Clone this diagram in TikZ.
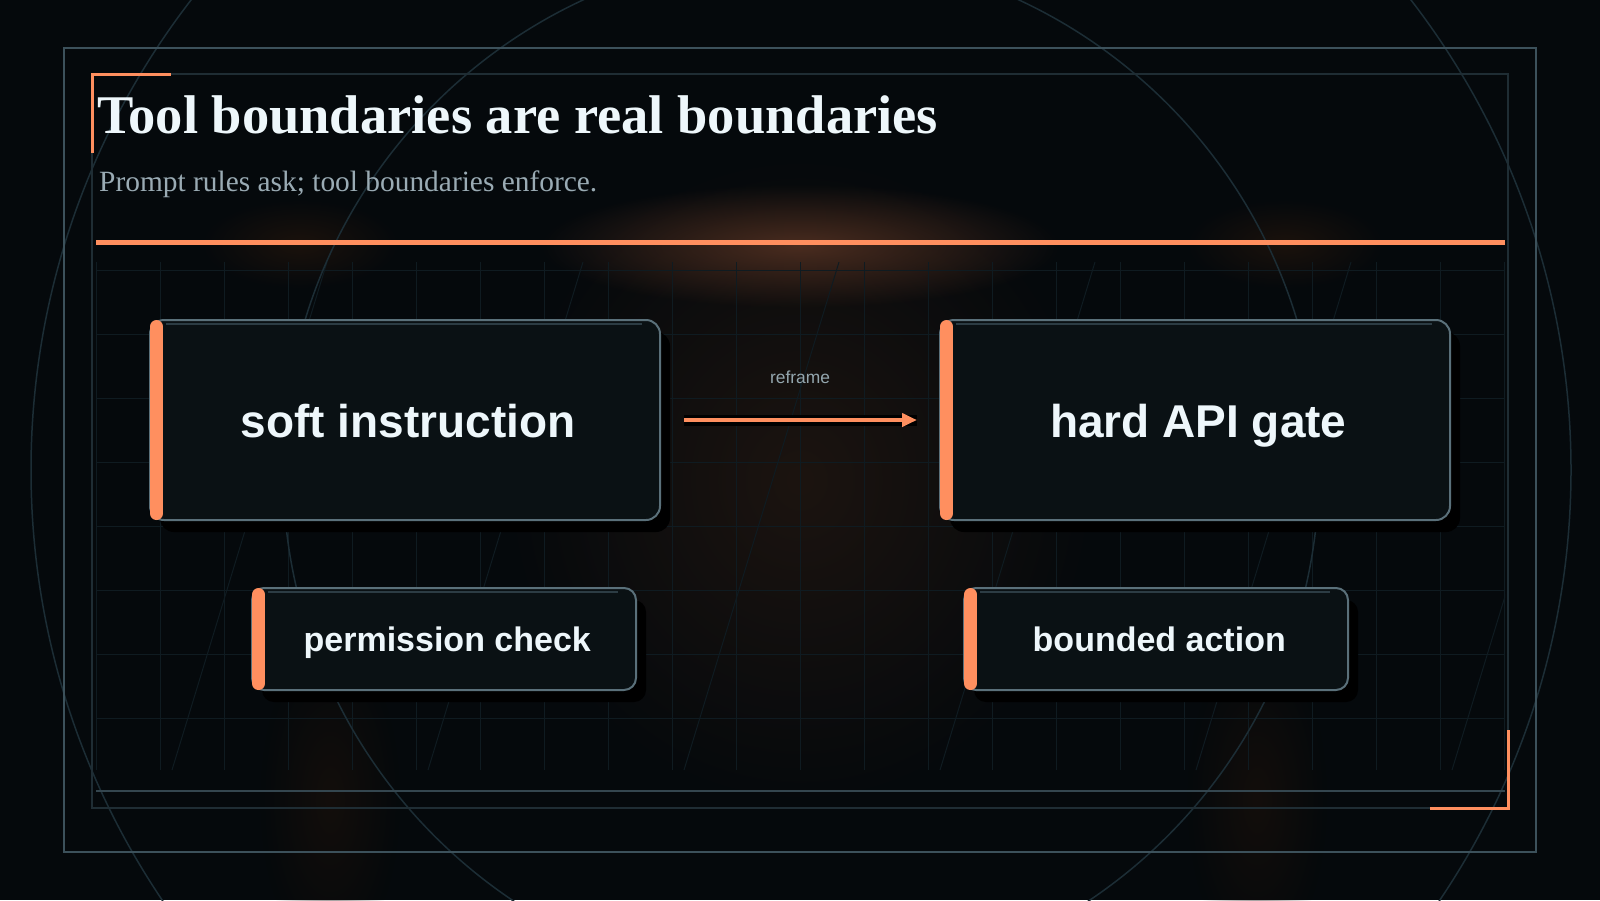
\documentclass[tikz,border=0pt]{standalone}
\usepackage{fontspec}
\setmainfont{Liberation Serif}
\newfontfamily\sansf{Liberation Sans}
\usetikzlibrary{shadows,arrows.meta,fadings}
\definecolor{bg}{HTML}{05090C}
\definecolor{accent}{HTML}{FF8F5F}
\definecolor{frameout}{HTML}{3C515B}
\definecolor{framein}{HTML}{1F2D34}
\definecolor{gridc}{HTML}{0F1B21}
\definecolor{circc}{HTML}{1C2D35}
\definecolor{boxfill}{HTML}{0A1114}
\definecolor{boxline}{HTML}{5A707A}
\definecolor{boxhl}{HTML}{2C3C44}
\definecolor{textw}{HTML}{EEF7FB}
\definecolor{subc}{HTML}{9AABB4}
\definecolor{labc}{HTML}{94A6AE}
\definecolor{glowa}{HTML}{4A2C1F}
\definecolor{glowb}{HTML}{1C1410}
\definecolor{glowc}{HTML}{1B120D}
\definecolor{glowd}{HTML}{130E0B}
\tikzfading[name=glowfade, inner color=transparent!0, outer color=transparent!100]
\tikzset{
  glow/.style={fill=#1, path fading=glowfade},
  boxbase/.style={draw=boxline, line width=2pt, fill=boxfill, outer sep=0pt, inner sep=0pt,
    text=textw, text depth=0pt, execute at begin node={\hspace*{6.5pt}},
    drop shadow={shadow xshift=10pt, shadow yshift=-12pt, fill=black, opacity=1}},
  bigbox/.style={boxbase, rounded corners=14pt, minimum width=510pt, minimum height=200pt,
    font=\sansf\bfseries\fontsize{46}{50}\selectfont, text height=34pt},
  smallbox/.style={boxbase, rounded corners=12pt, minimum width=384pt, minimum height=102pt,
    font=\sansf\bfseries\fontsize{34}{38}\selectfont, text height=24pt},
  bar/.style={draw=accent, line width=13pt, line cap=round},
  hl/.style={draw=boxhl, line width=2pt},
  gridline/.style={draw=gridc, line width=1pt},
  frameline/.style={line width=2pt},
}
\begin{document}
\begin{tikzpicture}[x=1pt,y=-1pt]
\useasboundingbox (0,0) rectangle (1600,900);
\fill[bg] (0,0) rectangle (1600,900);
% glows
\fill[glow=glowb] (800,480) ellipse [x radius=300, y radius=330];
\fill[glow=glowa] (800,246) ellipse [x radius=260, y radius=62];
\fill[glow=glowc] (300,244) ellipse [x radius=100, y radius=45];
\fill[glow=glowc] (1285,244) ellipse [x radius=100, y radius=45];
\fill[glow=glowd] (330,800) ellipse [x radius=70, y radius=160];
\fill[glow=glowd] (1257,800) ellipse [x radius=70, y radius=160];
% grid
\foreach \k in {0,...,22} \draw[gridline] ({96+64*\k},262) -- ({96+64*\k},770);
\foreach \j in {0,...,7} \draw[gridline] (96,{270+64*\j}) -- (1505,{270+64*\j});
\begin{scope}
  \clip (96,262) rectangle (1505,770);
  \foreach \k in {-1,...,5} \draw[gridline] ({327+256*\k},262) -- ({172+256*\k},770);
\end{scope}
% circles
\draw[circc, line width=1.5pt] (801,470) circle [radius=770];
\draw[circc, line width=1.5pt] (801,470) circle [radius=518];
% frames
\draw[frameout, frameline] (64,48) rectangle (1536,852);
\draw[framein, frameline] (92,74) rectangle (1508,808);
\draw[frameout!85!bg, frameline] (96,791) -- (1505,791);
\draw[accent, line width=3pt] (92,153) -- (92,74) -- (171,74);
\draw[accent, line width=3pt] (1508,730) -- (1508,808) -- (1430,808);
\fill[accent] (96,240) rectangle (1505,245);
% titles
\node[anchor=base west, inner sep=0pt, text=textw, font=\bfseries\fontsize{54.5}{60}\selectfont] (title) at (97,133) {Tool boundaries are real boundaries};
\node[anchor=base west, inner sep=0pt, text=subc, font=\fontsize{29.4}{34}\selectfont] (subtitle) at (99,191) {Prompt rules ask; tool boundaries enforce.};
% boxes
\node[bigbox] (soft) at (405,420) {soft instruction};
\node[bigbox] (hard) at (1195,420) {hard API gate};
\node[smallbox] (perm) at (444,639) {permission check};
\node[smallbox] (bound) at (1156,639) {bounded action};
\foreach \n in {soft,hard,perm,bound}{
  \draw[hl] ([shift={(16,4)}]\n.north west) -- ([shift={(-18,4)}]\n.north east);
  \draw[bar] ([shift={(6.5,6.5)}]\n.north west) -- ([shift={(6.5,-6.5)}]\n.south west);
}
% arrow
\draw[black, line width=11pt, shorten <=24pt, shorten >=23pt] (soft.east) -- (hard.west);
\draw[accent, line width=4pt, shorten <=24pt, shorten >=23pt, -{Triangle[length=15pt,width=13pt]}] (soft.east) -- (hard.west)
  node[midway, yshift=43pt, text=labc, font=\sansf\fontsize{17.4}{20}\selectfont] (lbl) {reframe};
\end{tikzpicture}
\end{document}
